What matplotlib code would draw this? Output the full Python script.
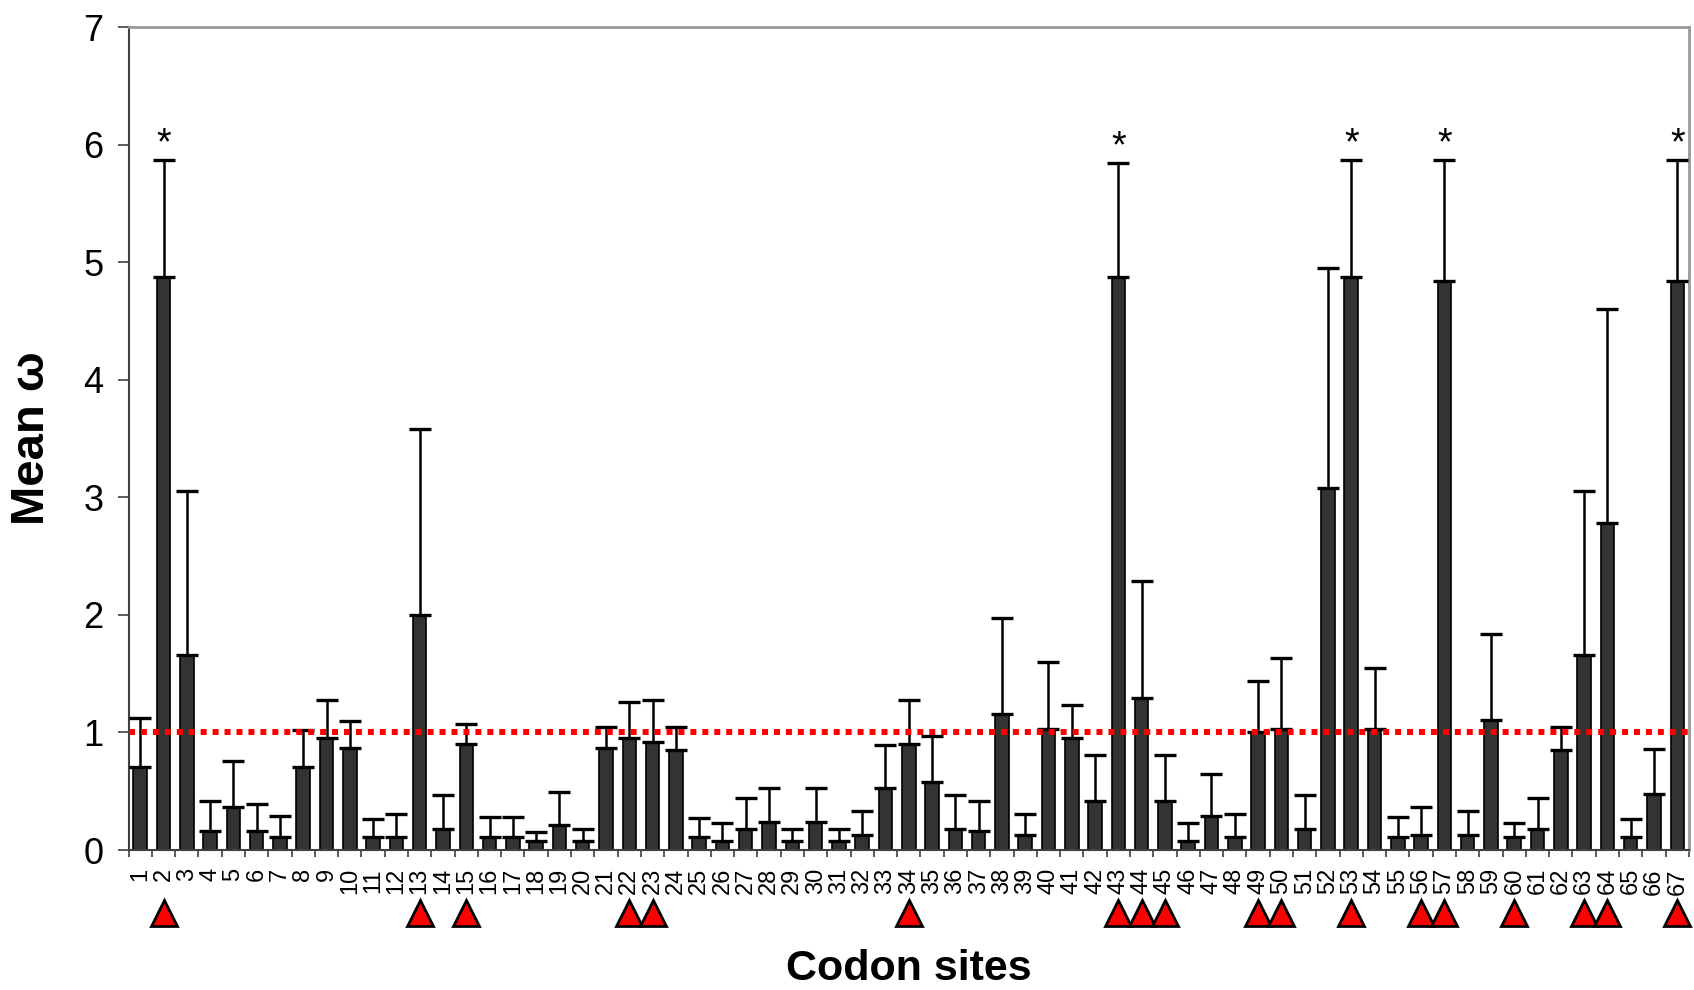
import numpy as np
import matplotlib
matplotlib.use("Agg")
import matplotlib.pyplot as plt
import matplotlib.transforms as mtransforms
from matplotlib.ticker import FixedLocator

plt.rcParams['font.family'] = ['Liberation Sans', 'DejaVu Sans']

# codon sites 1..67
sites = list(range(1, 68))
mean_omega = [0.71, 4.87, 1.66, 0.16, 0.37, 0.16, 0.11, 0.71, 0.95, 0.87,
              0.11, 0.11, 2.00, 0.18, 0.90, 0.11, 0.11, 0.08, 0.21, 0.08,
              0.87, 0.95, 0.92, 0.85, 0.11, 0.08, 0.18, 0.24, 0.08, 0.24,
              0.08, 0.13, 0.53, 0.90, 0.58, 0.18, 0.16, 1.16, 0.13, 1.03,
              0.95, 0.42, 4.87, 1.29, 0.42, 0.08, 0.29, 0.11, 1.00, 1.03,
              0.18, 3.08, 4.87, 1.03, 0.11, 0.13, 4.84, 0.13, 1.11, 0.11,
              0.18, 0.85, 1.66, 2.78, 0.11, 0.48, 4.84]
# top of the error bar
upper = [1.12, 5.87, 3.05, 0.42, 0.76, 0.39, 0.29, 1.02, 1.28, 1.10,
         0.26, 0.31, 3.58, 0.47, 1.07, 0.28, 0.28, 0.155, 0.49, 0.175,
         1.05, 1.26, 1.28, 1.05, 0.27, 0.23, 0.44, 0.53, 0.175, 0.53,
         0.175, 0.33, 0.89, 1.28, 0.97, 0.47, 0.42, 1.97, 0.31, 1.60,
         1.23, 0.81, 5.84, 2.29, 0.81, 0.23, 0.65, 0.31, 1.44, 1.63,
         0.47, 4.95, 5.87, 1.55, 0.28, 0.37, 5.87, 0.33, 1.84, 0.23,
         0.44, 1.05, 3.05, 4.60, 0.26, 0.86, 5.87]
star_sites = [2, 43, 53, 57, 67]
triangle_sites = [2, 13, 15, 22, 23, 34, 43, 44, 45, 49, 50, 53, 56, 57,
                  60, 63, 64, 67]
threshold = 1.0

x = np.array(sites)
m = np.array(mean_omega)
yerr = np.array(upper) - m

fig = plt.figure(figsize=(16.94, 9.9), dpi=100)
ax = fig.add_axes([0.0759, 0.1414, 0.9211, 0.8313])

ax.bar(x, m, width=0.58, color='#333333', edgecolor='black', linewidth=1.2, zorder=2)
ax.errorbar(x, m, yerr=[np.zeros_like(m), yerr], fmt='none', ecolor='black',
            elinewidth=1.8, capsize=8, capthick=2.4, zorder=3)
ax.axhline(threshold, color='red', linewidth=4.3, linestyle=(0, (1, 1)),
           dash_capstyle='butt', zorder=4)

# asterisks above the significant sites
for s in star_sites:
    i = sites.index(s)
    ax.text(s, upper[i] + 0.05, '*', ha='center', va='baseline',
            fontsize=27, zorder=5)

# red triangles below the tick labels
trans = mtransforms.blended_transform_factory(ax.transData, ax.transAxes)
ax.plot(triangle_sites, [-0.077] * len(triangle_sites), linestyle='none',
        marker='^', markersize=19, markerfacecolor='red',
        markeredgecolor='black', markeredgewidth=2, transform=trans,
        clip_on=False, zorder=5)

ax.set_xlim(0.5, 67.5)
ax.set_ylim(0, 7)
ax.set_yticks(range(0, 8))
ax.set_xticks(x)
ax.set_xticklabels([str(s) for s in sites], rotation=90, fontsize=17)
ax.xaxis.set_minor_locator(FixedLocator(np.arange(0.5, 68, 1)))
ax.tick_params(axis='x', which='major', length=0, pad=13)
ax.tick_params(axis='x', which='minor', length=5, width=1.2, color='#404040')
ax.tick_params(axis='y', length=8, width=1.2, color='#404040', labelsize=26, pad=10)

for side in ['left', 'bottom']:
    ax.spines[side].set_color('#404040')
    ax.spines[side].set_linewidth(1.5)
for side in ['top', 'right']:
    ax.spines[side].set_color('#999999')
    ax.spines[side].set_linewidth(2)

ax.set_ylabel('Mean ω', fontsize=34, fontweight='bold', va='center')
ax.yaxis.set_label_coords(-0.062, 0.5)
ax.set_xlabel('Codon sites', fontsize=31, fontweight='bold', va='baseline')
ax.xaxis.set_label_coords(0.5, -0.158)

fig.savefig('out.png', dpi=100)
